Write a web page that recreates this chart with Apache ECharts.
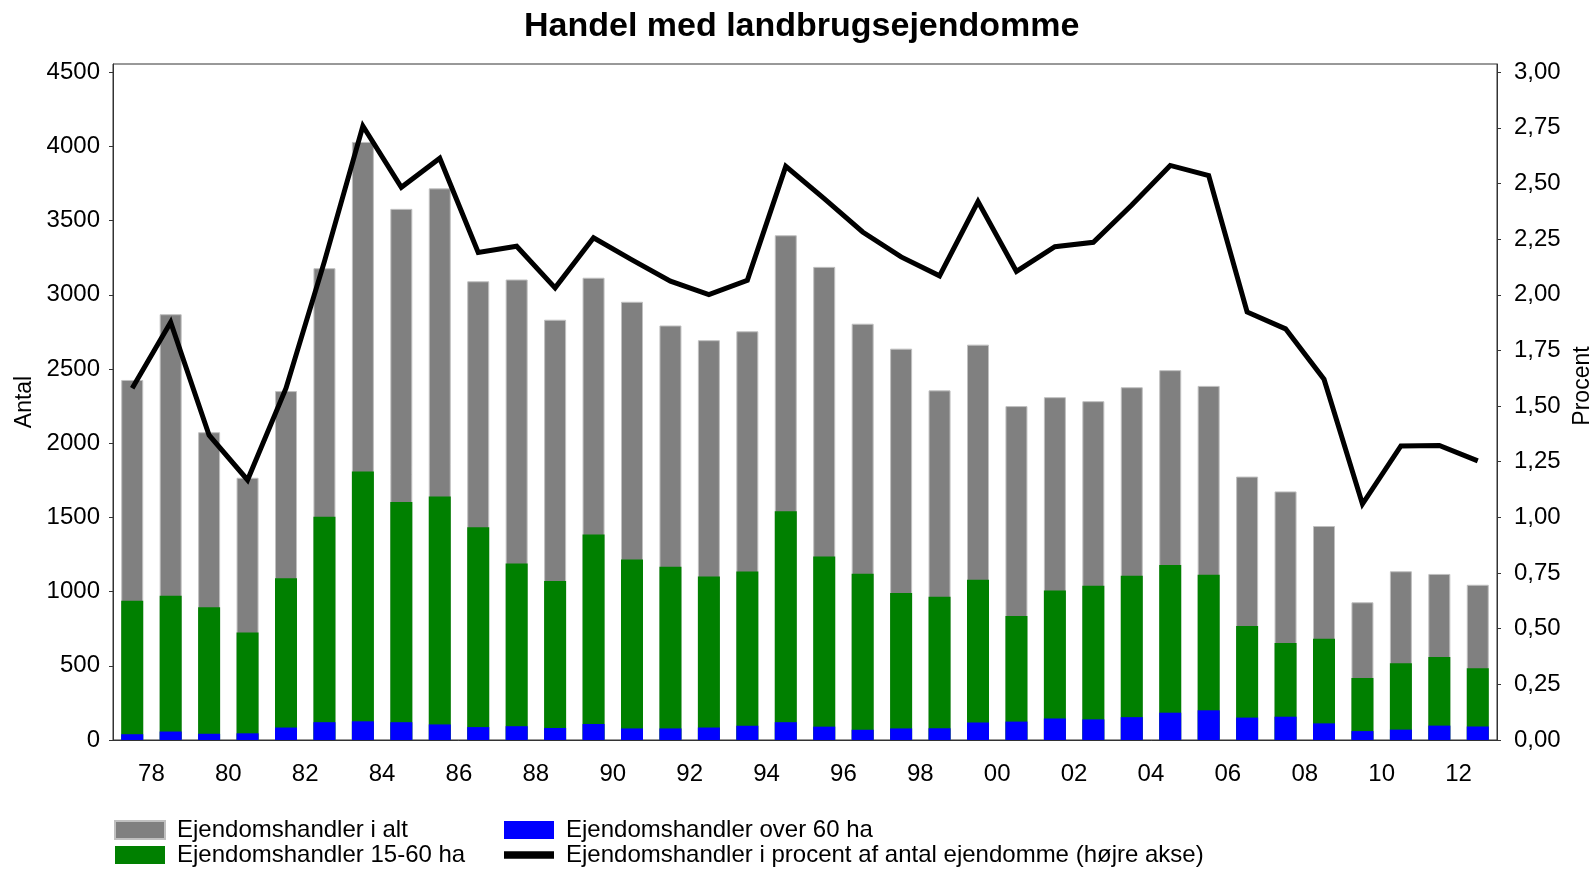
<!DOCTYPE html>
<html>
<head>
<meta charset="utf-8">
<script src="https://cdn.jsdelivr.net/npm/echarts@6/dist/echarts.min.js"></script>
<style>
  html, body { margin: 0; padding: 0; background: #fff; }
  #chart { width: 1594px; height: 870px; }
</style>
</head>
<body>
<div id="chart"></div>
<script>
  // år 1977-2012
  var years = ['1977', '1978', '1979', '1980', '1981', '1982', '1983', '1984', '1985', '1986',
    '1987', '1988', '1989', '1990', '1991', '1992', '1993', '1994', '1995', '1996',
    '1997', '1998', '1999', '2000', '2001', '2002', '2003', '2004', '2005', '2006',
    '2007', '2008', '2009', '2010', '2011', '2012']

  var handlerIAlt = [2426, 2869, 2074, 1767, 2351, 3179, 4030, 3579, 3717, 3091,
    3103, 2832, 3115, 2953, 2793, 2694, 2754, 3401, 3188, 2805,
    2637, 2356, 2664, 2250, 2310, 2283, 2377, 2492, 2386, 1775,
    1675, 1442, 928, 1137, 1119, 1046]

  var handler15til60 = [939, 972, 894, 725, 1090, 1505, 1809, 1604, 1640, 1433,
    1189, 1072, 1385, 1216, 1168, 1102, 1135, 1541, 1237, 1120,
    990, 965, 1080, 835, 1007, 1040, 1107, 1179, 1113, 768,
    653, 683, 417, 517, 559, 484]

  var handlerOver60 = [39, 57, 42, 45, 84, 120, 126, 120, 105, 87,
    93, 81, 108, 78, 78, 84, 96, 120, 90, 69,
    78, 79, 118, 124, 145, 139, 154, 184, 200, 151,
    157, 112, 60, 70, 97, 91]

  var procent = [1.58, 1.877, 1.369, 1.168, 1.58, 2.15, 2.758, 2.483, 2.613, 2.19,
    2.218, 2.031, 2.256, 2.157, 2.061, 2.001, 2.065, 2.577, 2.432, 2.282,
    2.17, 2.085, 2.419, 2.105, 2.216, 2.236, 2.403, 2.581, 2.536, 1.923,
    1.847, 1.621, 1.06, 1.321, 1.323, 1.254]

  var navne = ['Ejendomshandler i alt', 'Ejendomshandler 15-60 ha',
    'Ejendomshandler over 60 ha', 'Ejendomshandler i procent af antal ejendomme (højre akse)']

  var font = '"Liberation Sans", Arial, sans-serif'
  var chart = echarts.init(document.getElementById('chart'))

  var legendBase = {
    orient: 'vertical',
    top: 818,
    padding: 0,
    itemGap: 1,
    itemWidth: 50,
    itemHeight: 18,
    textStyle: { fontSize: 24, lineHeight: 24, padding: [0, 0, 0, 7], color: '#000' }
  }

  chart.setOption({
    animation: false,
    textStyle: { fontFamily: font, color: '#000' },
    title: {
      text: 'Handel med landbrugsejendomme',
      left: 519,
      top: 5,
      textStyle: { fontSize: 34, fontWeight: 'bold', color: '#000', fontFamily: font }
    },
    legend: [
      Object.assign({}, legendBase, {
        left: 114,
        data: [
          { name: navne[0], icon: 'rect' },
          { name: navne[1], icon: 'rect' }
        ]
      }),
      Object.assign({}, legendBase, {
        left: 504,
        data: [
          { name: navne[2], icon: 'rect' },
          { name: navne[3], icon: 'path://M0,0h40v6h-40z' }
        ]
      })
    ],
    grid: {
      left: 113,
      right: 97,
      top: 64,
      bottom: 130,
      outerBoundsMode: 'none',
      containLabel: false,
      show: true,
      borderColor: '#333',
      borderWidth: 1
    },
    xAxis: {
      type: 'category',
      data: years,
      boundaryGap: true,
      axisLine: { lineStyle: { color: '#333', width: 1 } },
      axisTick: {
        length: 7,
        lineStyle: { color: '#333' },
        interval: function (i) { return i % 2 === 1 }
      },
      axisLabel: {
        interval: function (i) { return i % 2 === 1 },
        margin: 22,
        fontSize: 24,
        color: '#000',
        formatter: function (v) { return '{a|' + v.slice(2) + '}' },
        rich: { a: { fontSize: 24, padding: [0, 38.5, 0, 0], color: '#000' } }
      }
    },
    yAxis: [
      {
        type: 'value',
        min: 0,
        max: 4555,
        interval: 500,
        name: 'Antal',
        nameLocation: 'middle',
        nameGap: 66,
        nameTextStyle: { fontSize: 23, color: '#000' },
        splitLine: { show: false },
        axisLine: { show: true, lineStyle: { color: '#333' } },
        axisTick: { show: true, length: 4, lineStyle: { color: '#333' } },
        axisLabel: {
          fontSize: 24,
          color: '#000',
          margin: 13,
          showMaxLabel: false,
          formatter: function (v) { return String(v) }
        }
      },
      {
        type: 'value',
        min: 0,
        max: 3.0367,
        interval: 0.25,
        name: 'Procent',
        nameLocation: 'middle',
        nameGap: 59,
        nameTextStyle: { fontSize: 23, color: '#000', padding: [0, 0, 0, 32] },
        splitLine: { show: false },
        axisLine: { show: true, lineStyle: { color: '#333' } },
        axisTick: { show: true, length: 4, lineStyle: { color: '#333' } },
        axisLabel: {
          fontSize: 24,
          color: '#000',
          margin: 17,
          showMaxLabel: false,
          formatter: function (v) { return v.toFixed(2).replace('.', ',') }
        }
      }
    ],
    series: [
      {
        name: navne[0],
        type: 'bar',
        barWidth: 22,
        barGap: '-100%',
        itemStyle: { color: '#808080', borderColor: '#c0c0c0', borderWidth: 1 },
        data: handlerIAlt
      },
      {
        name: navne[1],
        type: 'bar',
        barWidth: 22,
        barGap: '-100%',
        itemStyle: { color: '#008000' },
        data: handler15til60
      },
      {
        name: navne[2],
        type: 'bar',
        barWidth: 22,
        barGap: '-100%',
        itemStyle: { color: '#0000ff' },
        data: handlerOver60
      },
      {
        name: navne[3],
        type: 'line',
        yAxisIndex: 1,
        symbol: 'none',
        z: 5,
        lineStyle: { color: '#000', width: 5, join: 'miter' },
        itemStyle: { color: '#000' },
        data: procent
      }
    ]
  })
</script>
</body>
</html>
